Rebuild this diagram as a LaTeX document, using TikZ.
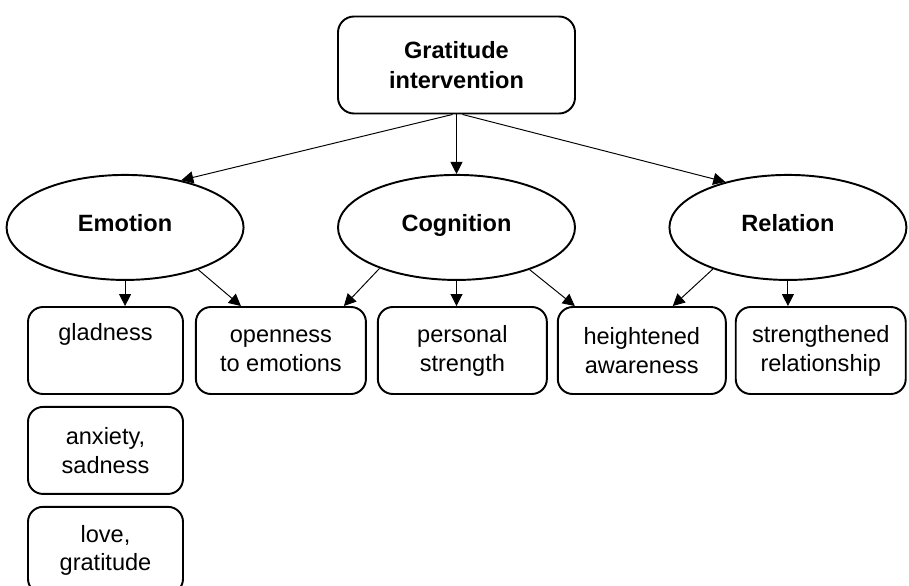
\documentclass[tikz,border=0pt]{standalone}
\usepackage{fontspec}
\setmainfont{Liberation Sans}
\usetikzlibrary{shapes.geometric, arrows.meta, positioning}
\tikzset{
    topbox/.style={rectangle, rounded corners=0.32cm, draw=black, line width=1.1pt, minimum width=4.74cm, minimum height=1.94cm, align=center, font=\fontsize{13.4}{16.6}\selectfont\bfseries},
    aspect/.style={ellipse, draw=black, line width=1.1pt, minimum width=4.74cm, minimum height=2.1cm, inner sep=0pt, text height=0.75em, text depth=0.25em, font=\fontsize{13.4}{16.4}\selectfont\bfseries},
    effect/.style={rectangle, rounded corners=0.3cm, draw=black, line width=1.1pt, minimum width=3.4cm, minimum height=1.74cm, align=center, font=\fontsize{13.4}{16.4}\selectfont},
    arrow/.style={-{Triangle[length=0.24cm, width=0.24cm]}, line width=0.55pt},
}
\begin{document}
\begin{tikzpicture}
    \useasboundingbox (0,0) rectangle (18.18,-11.72);

    \node[topbox] (grat) at (9.13,-1.3) {Gratitude\\intervention};
    \node[aspect, below=1.19cm of grat] (cogn) {Cognition};
    \node[aspect, left=1.85cm of cogn] (emo) {Emotion};
    \node[aspect, right=1.85cm of cogn] (rel) {Relation};

    \node[effect, minimum width=3.1cm] (glad) at (2.11,-7.01) {gladness\\\strut};
    \node[effect, right=0.22cm of glad] (open) {openness\\to emotions};
    \node[effect, right=0.2cm of open, minimum width=3.38cm] (pers) {personal\\strength};
    \node[effect, right=0.18cm of pers, minimum width=3.36cm] (aware) {heightened\\awareness};
    \node[effect, right=0.16cm of aware] (relship) {strengthened\\relationship};
    \node[effect, minimum width=3.1cm, below=0.22cm of glad] (anx) {anxiety,\\sadness};
    \node[effect, minimum width=3.1cm, below=0.22cm of anx] (love) {love,\\gratitude};

    \draw[arrow] ([xshift=-0.08cm]grat.south) -- (emo.40);
    \draw[arrow] (grat.south) -- (cogn.north);
    \draw[arrow] ([xshift=0.12cm]grat.south) -- (rel.144);

    \draw[arrow] (emo.south) -- (emo.south |- glad.north);
    \draw[arrow] (emo.-30) -- ([xshift=0.92cm]open.north west);
    \draw[arrow] (cogn.-152) -- ([xshift=-0.46cm]open.north east);
    \draw[arrow] (cogn.south) -- (cogn.south |- pers.north);
    \draw[arrow] (cogn.-30) -- ([xshift=0.36cm]aware.north west);
    \draw[arrow] (rel.-151) -- ([xshift=-1.08cm]aware.north east);
    \draw[arrow] (rel.south) -- (rel.south |- relship.north);
\end{tikzpicture}
\end{document}
